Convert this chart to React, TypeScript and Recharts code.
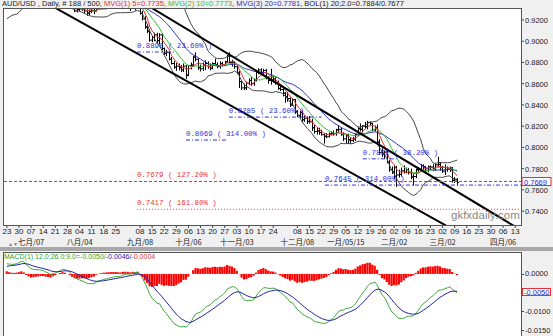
import {
  ComposedChart,
  Bar,
  Line,
  XAxis,
  YAxis,
  CartesianGrid,
  ReferenceLine,
  ReferenceDot,
} from 'recharts'

// closes before the first visible bar (May 19 - Jun 20), only used to warm up the averages
const warmupCloses = [
  0.9330, 0.9250, 0.9215, 0.9230, 0.9220,
  0.9240, 0.9230, 0.9250, 0.9290, 0.9300,
  0.9255, 0.9235, 0.9250, 0.9330, 0.9355,
  0.9360, 0.9390, 0.9390, 0.9395, 0.9405,
  0.9400, 0.9335, 0.9385, 0.9395, 0.9405,
]

// daily bars, Jun 23 2014 -> Mar 10 2015, one row per week
const opens = [
  0.9405, 0.9405, 0.9385, 0.9395, 0.9400,
  0.9430, 0.9445, 0.9475, 0.9420, 0.9345,
  0.9360, 0.9345, 0.9380, 0.9385, 0.9395,
  0.9385, 0.9385, 0.9345, 0.9355, 0.9330,
  0.9385, 0.9400, 0.9410, 0.9435, 0.9440,
  0.9395, 0.9370, 0.9350, 0.9310, 0.9285,
  0.9300, 0.9305, 0.9300, 0.9285, 0.9265,
  0.9280, 0.9290, 0.9285, 0.9335, 0.9330,
  0.9320, 0.9325, 0.9320, 0.9330, 0.9325,
  0.9330, 0.9330, 0.9320, 0.9325, 0.9355,
  0.9345, 0.9345, 0.9325, 0.9370, 0.9340,
  0.9375, 0.9260, 0.9210, 0.9135, 0.9095,
  0.9010, 0.9035, 0.9060, 0.9005, 0.9060,
  0.8930, 0.8885, 0.8895, 0.8830, 0.8790,
  0.8755, 0.8765, 0.8750, 0.8730, 0.8765,
  0.8680, 0.8770, 0.8775, 0.8850, 0.8830,
  0.8750, 0.8740, 0.8770, 0.8790, 0.8760,
  0.8745, 0.8790, 0.8780, 0.8760, 0.8790,
  0.8775, 0.8805, 0.8860, 0.8800, 0.8800,
  0.8760, 0.8700, 0.8620, 0.8560, 0.8560,
  0.8605, 0.8630, 0.8600, 0.8635, 0.8710,
  0.8730, 0.8705, 0.8725, 0.8655, 0.8630,
  0.8635, 0.8645, 0.8610, 0.8555, 0.8545,
  0.8510, 0.8475, 0.8460, 0.8400, 0.8450,
  0.8340, 0.8300, 0.8330, 0.8260, 0.8275,
  0.8245, 0.8240, 0.8185, 0.8150, 0.8155,
  0.8140, 0.8120, 0.8105, 0.8100, 0.8125,
  0.8135, 0.8130, 0.8165, 0.8170, 0.8120,
  0.8080, 0.8110, 0.8070, 0.8065, 0.8080,
  0.8120, 0.8175, 0.8170, 0.8200, 0.8195,
  0.8235, 0.8225, 0.8165, 0.8185, 0.8050,
  0.7950, 0.7935, 0.7955, 0.7860, 0.7790,
  0.7770, 0.7810, 0.7740, 0.7745, 0.7780,
  0.7765, 0.7790, 0.7760, 0.7720, 0.7725,
  0.7790, 0.7795, 0.7830, 0.7815, 0.7785,
  0.7815, 0.7815, 0.7800, 0.7835, 0.7840,
  0.7810, 0.7776, 0.7810, 0.7795, 0.7805,
  0.7690, 0.7700,
]
const highs = [
  0.9420, 0.9425, 0.9410, 0.9420, 0.9440,
  0.9460, 0.9505, 0.9480, 0.9440, 0.9375,
  0.9375, 0.9390, 0.9400, 0.9410, 0.9405,
  0.9400, 0.9400, 0.9375, 0.9375, 0.9395,
  0.9415, 0.9425, 0.9455, 0.9450, 0.9445,
  0.9405, 0.9385, 0.9365, 0.9325, 0.9320,
  0.9325, 0.9330, 0.9320, 0.9300, 0.9300,
  0.9310, 0.9305, 0.9345, 0.9350, 0.9340,
  0.9345, 0.9340, 0.9345, 0.9350, 0.9345,
  0.9345, 0.9345, 0.9345, 0.9375, 0.9370,
  0.9365, 0.9360, 0.9400, 0.9385, 0.9385,
  0.9385, 0.9285, 0.9235, 0.9160, 0.9110,
  0.9050, 0.9080, 0.9080, 0.9075, 0.9075,
  0.8940, 0.8920, 0.8905, 0.8850, 0.8815,
  0.8795, 0.8790, 0.8775, 0.8790, 0.8775,
  0.8775, 0.8800, 0.8860, 0.8895, 0.8840,
  0.8780, 0.8800, 0.8820, 0.8810, 0.8790,
  0.8800, 0.8835, 0.8800, 0.8810, 0.8805,
  0.8815, 0.8870, 0.8895, 0.8825, 0.8810,
  0.8770, 0.8720, 0.8630, 0.8600, 0.8620,
  0.8650, 0.8665, 0.8650, 0.8720, 0.8745,
  0.8745, 0.8740, 0.8740, 0.8670, 0.8740,
  0.8670, 0.8660, 0.8630, 0.8575, 0.8560,
  0.8520, 0.8520, 0.8470, 0.8460, 0.8455,
  0.8350, 0.8345, 0.8345, 0.8300, 0.8290,
  0.8295, 0.8270, 0.8210, 0.8185, 0.8185,
  0.8165, 0.8135, 0.8135, 0.8140, 0.8150,
  0.8160, 0.8175, 0.8210, 0.8185, 0.8140,
  0.8120, 0.8130, 0.8095, 0.8100, 0.8130,
  0.8190, 0.8225, 0.8210, 0.8240, 0.8250,
  0.8245, 0.8230, 0.8205, 0.8215, 0.8075,
  0.7990, 0.7970, 0.7975, 0.7880, 0.7820,
  0.7835, 0.7825, 0.7790, 0.7810, 0.7830,
  0.7810, 0.7805, 0.7800, 0.7750, 0.7800,
  0.7815, 0.7845, 0.7840, 0.7825, 0.7830,
  0.7830, 0.7840, 0.7850, 0.7912, 0.7860,
  0.7825, 0.7840, 0.7820, 0.7820, 0.7815,
  0.7720, 0.7710,
]
const lows = [
  0.9375, 0.9370, 0.9360, 0.9380, 0.9390,
  0.9415, 0.9430, 0.9410, 0.9330, 0.9335,
  0.9325, 0.9330, 0.9350, 0.9365, 0.9360,
  0.9360, 0.9330, 0.9320, 0.9310, 0.9320,
  0.9375, 0.9390, 0.9395, 0.9410, 0.9385,
  0.9360, 0.9340, 0.9300, 0.9275, 0.9270,
  0.9280, 0.9285, 0.9260, 0.9240, 0.9245,
  0.9265, 0.9255, 0.9280, 0.9310, 0.9305,
  0.9308, 0.9310, 0.9310, 0.9312, 0.9310,
  0.9310, 0.9310, 0.9308, 0.9315, 0.9330,
  0.9325, 0.9285, 0.9315, 0.9290, 0.9320,
  0.9250, 0.9195, 0.9115, 0.9075, 0.8995,
  0.8990, 0.9000, 0.8985, 0.8970, 0.8915,
  0.8870, 0.8860, 0.8820, 0.8780, 0.8740,
  0.8720, 0.8725, 0.8710, 0.8710, 0.8645,
  0.8670, 0.8735, 0.8760, 0.8810, 0.8730,
  0.8715, 0.8720, 0.8730, 0.8740, 0.8725,
  0.8735, 0.8765, 0.8745, 0.8740, 0.8760,
  0.8765, 0.8795, 0.8790, 0.8760, 0.8740,
  0.8690, 0.8560, 0.8540, 0.8540, 0.8540,
  0.8585, 0.8580, 0.8580, 0.8620, 0.8690,
  0.8680, 0.8690, 0.8640, 0.8600, 0.8590,
  0.8610, 0.8590, 0.8540, 0.8530, 0.8480,
  0.8420, 0.8430, 0.8380, 0.8390, 0.8315,
  0.8285, 0.8270, 0.8240, 0.8240, 0.8220,
  0.8225, 0.8155, 0.8130, 0.8120, 0.8120,
  0.8110, 0.8035, 0.8085, 0.8095, 0.8115,
  0.8110, 0.8110, 0.8140, 0.8110, 0.8060,
  0.8040, 0.8030, 0.8035, 0.8050, 0.8060,
  0.8110, 0.8150, 0.8140, 0.8180, 0.8170,
  0.8205, 0.8150, 0.8150, 0.8020, 0.7930,
  0.7910, 0.7890, 0.7850, 0.7770, 0.7750,
  0.7700, 0.7626, 0.7715, 0.7725, 0.7755,
  0.7755, 0.7745, 0.7700, 0.7640, 0.7710,
  0.7770, 0.7780, 0.7790, 0.7770, 0.7765,
  0.7785, 0.7780, 0.7780, 0.7825, 0.7780,
  0.7760, 0.7740, 0.7770, 0.7770, 0.7670,
  0.7665, 0.7640,
]
const closes = [
  0.9405, 0.9385, 0.9395, 0.9400, 0.9430,
  0.9445, 0.9475, 0.9420, 0.9345, 0.9360,
  0.9345, 0.9380, 0.9385, 0.9395, 0.9385,
  0.9385, 0.9345, 0.9355, 0.9330, 0.9385,
  0.9400, 0.9410, 0.9435, 0.9440, 0.9395,
  0.9370, 0.9350, 0.9310, 0.9285, 0.9300,
  0.9305, 0.9300, 0.9285, 0.9265, 0.9280,
  0.9290, 0.9285, 0.9335, 0.9330, 0.9320,
  0.9325, 0.9320, 0.9330, 0.9325, 0.9330,
  0.9330, 0.9320, 0.9325, 0.9355, 0.9345,
  0.9345, 0.9325, 0.9370, 0.9340, 0.9375,
  0.9260, 0.9210, 0.9135, 0.9095, 0.9010,
  0.9035, 0.9060, 0.9005, 0.9060, 0.8930,
  0.8885, 0.8895, 0.8830, 0.8790, 0.8755,
  0.8765, 0.8750, 0.8730, 0.8765, 0.8680,
  0.8770, 0.8775, 0.8850, 0.8830, 0.8750,
  0.8740, 0.8770, 0.8790, 0.8760, 0.8745,
  0.8790, 0.8780, 0.8760, 0.8790, 0.8775,
  0.8805, 0.8860, 0.8800, 0.8800, 0.8760,
  0.8700, 0.8620, 0.8560, 0.8560, 0.8605,
  0.8630, 0.8600, 0.8635, 0.8710, 0.8730,
  0.8705, 0.8725, 0.8655, 0.8630, 0.8635,
  0.8645, 0.8610, 0.8555, 0.8545, 0.8510,
  0.8475, 0.8460, 0.8400, 0.8450, 0.8340,
  0.8300, 0.8330, 0.8260, 0.8275, 0.8245,
  0.8240, 0.8185, 0.8150, 0.8155, 0.8140,
  0.8120, 0.8105, 0.8100, 0.8125, 0.8135,
  0.8130, 0.8165, 0.8170, 0.8120, 0.8080,
  0.8110, 0.8070, 0.8065, 0.8080, 0.8120,
  0.8175, 0.8170, 0.8200, 0.8195, 0.8235,
  0.8225, 0.8165, 0.8185, 0.8050, 0.7950,
  0.7935, 0.7955, 0.7860, 0.7790, 0.7770,
  0.7810, 0.7740, 0.7745, 0.7780, 0.7765,
  0.7790, 0.7760, 0.7720, 0.7725, 0.7790,
  0.7795, 0.7830, 0.7815, 0.7785, 0.7815,
  0.7815, 0.7800, 0.7835, 0.7840, 0.7810,
  0.7776, 0.7810, 0.7795, 0.7805, 0.7690,
  0.7700, 0.7669,
]

const weekTicks = [
  0, 5, 10, 15, 20, 25, 30, 35, 40, 45, 55, 60, 65, 70, 75, 80, 85, 90, 95, 100, 105, 110,
  120, 125, 130, 135, 140, 145, 150, 155, 160, 165, 170, 175, 180, 185, 190, 195, 200, 205, 210,
]
const weekLabels = [
  '23', '30', '07', '14', '21', '28', '04', '11', '18', '25', '08', '15', '22', '29', '06', '13',
  '20', '27', '03', '10', '17', '24', '08', '15', '22', '29', '05', '12', '19', '26', '02', '09',
  '16', '23', '02', '09', '16', '23', '30', '06', '13',
]
const monthTicks = [10, 30, 55, 75, 95, 120, 140, 160, 180, 205]
const monthLabels = [
  '七月/07', '八月/04', '九月/08', '十月/06', '十一月/03',
  '十二月/08', '一月/05/15', '二月/02', '三月/02', '四月/06',
]
const priceTicks = [0.74, 0.76, 0.78, 0.8, 0.82, 0.84, 0.86, 0.88, 0.9, 0.92]
const macdTicks = [0, -0.005, -0.01, -0.015]

// trend channel, two points each (bar index, price)
const channelUpper = [{ x: -20, y: 1.0408 }, { x: 230, y: 0.6979 }]
const channelLower = [{ x: -20, y: 0.98215 }, { x: 230, y: 0.66465 }]

// fibonacci levels: value, text, colour, text position, line start/end (bar index)
const fibLevels = [
  { v: 0.8898, text: '0.8898 ( 23.60% )', color: '#3030e0', at: 53.7, from: 53.7, to: 69, dash: '4 2 1 2' },
  { v: 0.8285, text: '0.8285 ( 23.60% )', color: '#3030e0', at: 91.7, from: 91.7, to: 130, dash: '4 2 1 2' },
  { v: 0.8069, text: '0.8069 ( 314.00% )', color: '#3030e0', at: 74, from: 74, to: 91, dash: '4 2 1 2' },
  { v: 0.7892, text: '0.7892 ( 38.20% )', color: '#3030e0', at: 147, from: 147, to: 161, dash: '4 2 1 2' },
  { v: 0.7645, text: '0.7645 ( 314.00% )', color: '#3030e0', at: 131.4, from: 131.4, to: 212.4, dash: '4 2 1 2' },
  { v: 0.7679, text: '0.7679 ( 127.20% )', color: '#e83030', at: 53.7, from: -1.2, to: 212.4, dash: '3 2' },
  { v: 0.7417, text: '0.7417 ( 161.80% )', color: '#e83030', at: 53.7, from: 53.7, to: 212.4, dash: '1 2' },
]

const LAST_PRICE = 0.7669
const LAST_MACD = -0.005

const X_DOMAIN = [-1.2, 212.4]
const MACD_DOMAIN = [-0.0166, 0.0056]
const MACD_TOP = 253
const MACD_H = 83

// ---- indicators from the closes
const allCloses = [...warmupCloses, ...closes]
const W = warmupCloses.length

function smaAt(n: number, j: number) {
  let s = 0
  for (let k = j - n + 1; k <= j; k++) s += allCloses[k]
  return s / n
}
function sdAt(n: number, j: number, m: number) {
  let s = 0
  for (let k = j - n + 1; k <= j; k++) s += (allCloses[k] - m) ** 2
  return Math.sqrt(s / n)
}
function emaOf(src: number[], n: number) {
  const k = 2 / (n + 1)
  const out: number[] = []
  let e = src[0]
  src.forEach((v, i) => {
    e = i === 0 ? v : v * k + e * (1 - k)
    out.push(e)
  })
  return out
}
const ema12 = emaOf(allCloses, 12)
const ema26 = emaOf(allCloses, 26)
const macdAll = ema12.map((v, i) => v - ema26[i])
const signalAll = emaOf(macdAll, 9)

const rows = closes.map((c, i) => {
  const j = i + W
  const ma20 = smaAt(20, j)
  const sd = sdAt(20, j, ma20)
  return {
    i,
    o: opens[i],
    h: highs[i],
    l: lows[i],
    c,
    range: [lows[i], highs[i]],
    ma5: smaAt(5, j),
    ma10: smaAt(10, j),
    ma20,
    bbUp: ma20 + 2 * sd,
    bbLow: ma20 - 2 * sd,
    macd: macdAll[j],
    signal: signalAll[j],
    hist: macdAll[j] - signalAll[j],
  }
})

function OhlcShape(props: any) {
  const { x, y, width, height } = props
  const p = props.payload || props
  if (p.h == null) return null
  const top = Math.min(y, y + height)
  const h = Math.abs(height)
  const py = (v: number) => (p.h === p.l ? top : top + ((p.h - v) / (p.h - p.l)) * h)
  const cx = Math.round(x + width / 2) + 0.5
  return (
    <g stroke="#000" strokeWidth={1}>
      <line x1={cx} x2={cx} y1={top} y2={top + Math.max(h, 1)} />
      <line x1={cx - 1.5} x2={cx} y1={py(p.o)} y2={py(p.o)} />
      <line x1={cx} x2={cx + 1.5} y1={py(p.c)} y2={py(p.c)} />
    </g>
  )
}

function DateTick({ x, y, payload }: any) {
  const k = weekTicks.indexOf(payload.value)
  const m = monthTicks.indexOf(payload.value)
  return (
    <g fontSize={8} fill="#222">
      <text x={x} y={y + 4} textAnchor="middle">{weekLabels[k]}</text>
      {m >= 0 && (
        <text x={x} y={y + 15} textAnchor="middle" fontFamily="'Noto Sans CJK SC', sans-serif" fontSize={7.5}>
          {monthLabels[m]}
        </text>
      )}
    </g>
  )
}

function ValueTick({ x, y, payload }: any) {
  return (
    <text x={x} y={y + 3} fontSize={7.5} fill="#222">
      {payload.value.toFixed(4)}
    </text>
  )
}

function FibText({ viewBox, text, color }: any) {
  return (
    <text
      x={viewBox.x}
      y={viewBox.y - 4}
      fill={color}
      fontSize={7.4}
      fontFamily="'Liberation Mono', 'DejaVu Sans Mono', monospace"
    >
      {text}
    </text>
  )
}

function PriceBox({ viewBox, text }: any) {
  const x = viewBox.x + viewBox.width + 1
  return (
    <g>
      <rect x={x} y={viewBox.y - 5} width={29} height={8} fill="#fff" stroke="#e03030" strokeWidth={1} />
      <text x={x + 2} y={viewBox.y + 2} fill="#2828d0" fontSize={7.5}>{text}</text>
    </g>
  )
}

// the MACD axis labels sit in html beside the panel, at the panel's own scale
function macdLabelTop(v: number) {
  return MACD_TOP + ((MACD_DOMAIN[1] - v) / (MACD_DOMAIN[1] - MACD_DOMAIN[0])) * MACD_H - 4.5
}

export default function App() {
  return (
    <div
      style={{
        position: 'relative',
        width: 553,
        height: 336,
        background: '#f0f0f0',
        overflow: 'hidden',
        fontFamily: "'Liberation Sans', Arial, sans-serif",
      }}
    >
      <style>{'body{margin:0}'}</style>
      <div style={{ position: 'absolute', left: 2, top: 0, fontSize: 7.5, lineHeight: '8px', whiteSpace: 'nowrap', color: '#222' }}>
        AUD/USD , Daily, # 188 / 500, <span style={{ color: '#e03030' }}>MVG(1) 5=0.7735</span>,{' '}
        <span style={{ color: '#30c030' }}>MVG(2) 10=0.7773</span>,{' '}
        <span style={{ color: '#3030c0' }}>MVG(3) 20=0.7781</span>, BOL(1) 20;2.0=0.7884/0.7677
      </div>

      <div style={{ position: 'absolute', left: 0, top: 0 }}>
        <ComposedChart width={553} height={252} data={rows} margin={{ top: 9, right: 0, bottom: 0, left: 4 }}>
          <CartesianGrid horizontal={false} vertical={false} fill="#fff" />
          <XAxis
            dataKey="i"
            type="number"
            domain={X_DOMAIN}
            allowDataOverflow
            ticks={weekTicks}
            interval={0}
            tick={<DateTick />}
            tickSize={3}
            height={27}
            axisLine={false}
            tickLine={{ stroke: '#444' }}
          />
          <YAxis
            orientation="right"
            domain={[0.7269, 0.9303]}
            allowDataOverflow
            ticks={priceTicks}
            interval={0}
            tick={<ValueTick />}
            tickSize={3}
            tickMargin={1}
            width={32}
            axisLine={false}
            tickLine={{ stroke: '#444' }}
          />
          <Bar dataKey="range" barSize={2} shape={<OhlcShape />} isAnimationActive={false} />
          <Line dataKey="bbUp" stroke="#444" strokeWidth={1} dot={false} isAnimationActive={false} />
          <Line dataKey="bbLow" stroke="#444" strokeWidth={1} dot={false} isAnimationActive={false} />
          <Line dataKey="ma20" stroke="#3030c8" strokeWidth={1} dot={false} isAnimationActive={false} />
          <Line dataKey="ma10" stroke="#30c030" strokeWidth={1} dot={false} isAnimationActive={false} />
          <Line dataKey="ma5" stroke="#e03030" strokeWidth={1} dot={false} isAnimationActive={false} />
          <ReferenceLine segment={channelUpper} stroke="#000" strokeWidth={2} ifOverflow="hidden" />
          <ReferenceLine segment={channelLower} stroke="#000" strokeWidth={2} ifOverflow="hidden" />
          {fibLevels.map((f) => (
            <ReferenceLine
              key={'l' + f.text}
              segment={[{ x: f.from, y: f.v }, { x: f.to, y: f.v }]}
              stroke={f.color}
              strokeDasharray={f.dash}
              ifOverflow="hidden"
            />
          ))}
          {fibLevels.map((f) => (
            <ReferenceDot
              key={'t' + f.text}
              x={f.at}
              y={f.v}
              r={0}
              stroke="none"
              fill="none"
              label={<FibText text={f.text} color={f.color} />}
            />
          ))}
          <ReferenceLine y={LAST_PRICE} stroke="none" label={<PriceBox text={LAST_PRICE.toFixed(4)} />} />
        </ComposedChart>
      </div>
      <div
        style={{
          position: 'absolute',
          left: 451,
          top: 209,
          fontSize: 11.5,
          lineHeight: '13px',
          color: '#8a8a8a',
          fontFamily: "'Liberation Sans', Arial, sans-serif",
        }}
      >
        gkfxdaily.com
      </div>
      <div
        style={{
          position: 'absolute', left: 3, top: 8, width: 519, height: 218,
          border: '1px solid #555', boxSizing: 'border-box', pointerEvents: 'none',
        }}
      />

      <div style={{ position: 'absolute', left: 0, top: 247, width: 553, height: 4, background: '#a8a8a8' }} />
      <div style={{ position: 'absolute', left: 8, top: 242, fontSize: 5, color: '#7080a0', lineHeight: '5px' }}>▲▼</div>

      <div style={{ position: 'absolute', left: 0, top: 252 }}>
        <ComposedChart width={553} height={84} data={rows} margin={{ top: 1, right: 0, bottom: 0, left: 4 }}>
          <CartesianGrid horizontal={false} vertical={false} fill="#fff" />
          <XAxis dataKey="i" type="number" domain={X_DOMAIN} allowDataOverflow hide height={0} />
          <YAxis
            orientation="right"
            domain={MACD_DOMAIN}
            allowDataOverflow
            ticks={macdTicks}
            interval={0}
            tick={false}
            width={32}
            axisLine={false}
          />
          <Bar dataKey="hist" fill="#ff0000" barSize={3} isAnimationActive={false} />
          <Line dataKey="macd" stroke="#40a840" strokeWidth={1} dot={false} isAnimationActive={false} />
          <Line dataKey="signal" stroke="#2020a0" strokeWidth={1} dot={false} isAnimationActive={false} />
        </ComposedChart>
      </div>
      {macdTicks.filter((v) => v !== LAST_MACD).map((v) => (
        <div
          key={v}
          style={{
            position: 'absolute', left: 521, top: macdLabelTop(v), fontSize: 7.5,
            lineHeight: '9px', color: '#222', whiteSpace: 'nowrap',
          }}
        >
          <span style={{ display: 'inline-block', width: 3, height: 1, background: '#444', verticalAlign: 'middle', marginRight: 1 }} />
          {v.toFixed(4)}
        </div>
      ))}
      <div
        style={{
          position: 'absolute', left: 522, top: macdLabelTop(LAST_MACD), width: 29, height: 8,
          border: '1px solid #e03030', background: '#fff', boxSizing: 'border-box',
          fontSize: 7.5, lineHeight: '7px', color: '#2828d0', paddingLeft: 1,
        }}
      >
        {LAST_MACD.toFixed(4)}
      </div>
      <div style={{ position: 'absolute', left: 4, top: 253, fontSize: 7, lineHeight: '8px', whiteSpace: 'nowrap' }}>
        <span style={{ color: '#30a030' }}>MACD(1) 12.0;26.0;9.0=-0.0050/</span>
        <span style={{ color: '#2020a0' }}>-0.0046/</span>
        <span style={{ color: '#e03030' }}>-0.0004</span>
      </div>
      <div
        style={{
          position: 'absolute', left: 3, top: 252, width: 519, height: 90,
          border: '1px solid #555', boxSizing: 'border-box', pointerEvents: 'none',
        }}
      />
    </div>
  )
}
